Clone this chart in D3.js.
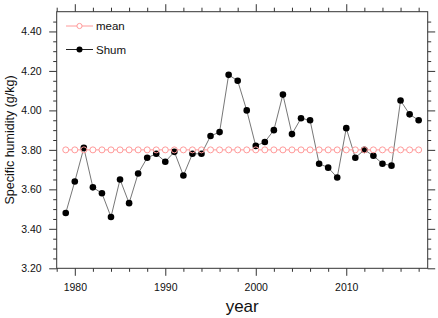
<!DOCTYPE html>
<html><head><meta charset="utf-8">
<script src="https://cdn.jsdelivr.net/npm/d3@7"></script>
<style>body{margin:0;background:#fff}svg{display:block}text{font-family:"Liberation Sans",Arial,sans-serif}</style>
</head><body>
<svg id="c" width="438" height="318"></svg>
<script>
const years = [1979,1980,1981,1982,1983,1984,1985,1986,1987,1988,1989,1990,1991,1992,1993,1994,1995,1996,1997,1998,1999,2000,2001,2002,2003,2004,2005,2006,2007,2008,2009,2010,2011,2012,2013,2014,2015,2016,2017,2018];
const shum = [3.48,3.64,3.81,3.61,3.58,3.46,3.65,3.53,3.68,3.76,3.78,3.74,3.79,3.67,3.78,3.78,3.87,3.89,4.18,4.15,4.00,3.82,3.84,3.90,4.08,3.88,3.96,3.95,3.73,3.71,3.66,3.91,3.76,3.80,3.77,3.73,3.72,4.05,3.98,3.95];
const meanVals = [3.80,3.80,3.80,3.80,3.80,3.80,3.80,3.80,3.80,3.80,3.80,3.80,3.80,3.80,3.80,3.80,3.80,3.80,3.80,3.80,3.80,3.80,3.80,3.80,3.80,3.80,3.80,3.80,3.80,3.80,3.80,3.80,3.80,3.80,3.80,3.80,3.80,3.80,3.80,3.80];
const yMajor = [3.2,3.4,3.6,3.8,4.0,4.2,4.4];
const yMinor = [3.25,3.3,3.35,3.45,3.5,3.55,3.65,3.7,3.75,3.85,3.9,3.95,4.05,4.1,4.15,4.25,4.3,4.35,4.45];
const xMajor = [1980,1990,2000,2010];
const xMinor = [1978,1982,1984,1986,1988,1992,1994,1996,1998,2002,2004,2006,2008,2012,2014,2016,2018];
const legendLabels = ["mean","Shum"];

const L=56.7,R=427.7,T=11.7,B=268.3;
const svg=d3.select("#c");
const x=d3.scaleLinear().domain([1978,2019]).range([L,R]);
const y=d3.scaleLinear().domain([3.2,4.5]).range([B,T]);
const axCol="#333";

function styleAxis(g){g.select(".domain").remove();g.selectAll("line").attr("stroke",axCol).attr("stroke-width",1);}
svg.append("g").attr("transform",`translate(${L},0)`).call(d3.axisLeft(y).tickValues(yMinor).tickSize(3.5).tickFormat("")).call(styleAxis);
const yl=svg.append("g").attr("transform",`translate(${L},0)`).call(d3.axisLeft(y).tickValues(yMajor).tickSize(7.5).tickPadding(7.5).tickFormat(d3.format(".2f"))).call(styleAxis);
yl.selectAll("text").attr("font-size",10.5).attr("fill","#111").attr("font-family","'Liberation Sans',Arial,sans-serif");
svg.append("g").attr("transform",`translate(${R},0)`).call(d3.axisRight(y).tickValues(yMinor).tickSize(3.5).tickFormat("")).call(styleAxis);
svg.append("g").attr("transform",`translate(${R},0)`).call(d3.axisRight(y).tickValues(yMajor).tickSize(7.5).tickFormat("")).call(styleAxis);

svg.append("g").attr("transform",`translate(0,${B})`).call(d3.axisBottom(x).tickValues(xMinor).tickSize(3.5).tickFormat("")).call(styleAxis);
const xl=svg.append("g").attr("transform",`translate(0,${B})`).call(d3.axisBottom(x).tickValues(xMajor).tickSize(7.5).tickPadding(7.7).tickFormat(d3.format("d"))).call(styleAxis);
xl.selectAll("text").attr("font-size",10.5).attr("fill","#111").attr("font-family","'Liberation Sans',Arial,sans-serif");
svg.append("g").attr("transform",`translate(0,${T})`).call(d3.axisTop(x).tickValues(xMinor).tickSize(4).tickFormat("")).call(styleAxis);
svg.append("g").attr("transform",`translate(0,${T})`).call(d3.axisTop(x).tickValues(xMajor).tickSize(7.5).tickFormat("")).call(styleAxis);

svg.append("rect").attr("x",L).attr("y",T).attr("width",R-L).attr("height",B-T).attr("fill","none").attr("stroke",axCol).attr("stroke-width",1);

const pink="#ff9a9a";
const line=d3.line().x((d,i)=>x(years[i])).y(d=>y(d));
svg.append("path").datum(meanVals).attr("d",line).attr("fill","none").attr("stroke",pink).attr("stroke-width",1);
svg.append("g").selectAll("circle").data(meanVals).join("circle").attr("cx",(d,i)=>x(years[i])).attr("cy",d=>y(d)).attr("r",3).attr("fill","#fff");
svg.append("path").datum(shum).attr("d",line).attr("fill","none").attr("stroke","#777").attr("stroke-width",1);
svg.append("g").selectAll("circle").data(shum).join("circle").attr("cx",(d,i)=>x(years[i])).attr("cy",d=>y(d)).attr("r",3.3).attr("fill","#000");
svg.append("g").selectAll("circle").data(meanVals).join("circle").attr("cx",(d,i)=>x(years[i])).attr("cy",d=>y(d)).attr("r",3).attr("fill","none").attr("stroke",pink).attr("stroke-width",1);

const lg=svg.append("g");
lg.append("line").attr("x1",66).attr("x2",93).attr("y1",26).attr("y2",26).attr("stroke",pink);
lg.append("circle").attr("cx",79.5).attr("cy",26).attr("r",2.6).attr("fill","#fff").attr("stroke",pink);
lg.append("text").attr("x",96).attr("y",30).attr("font-size",11.5).attr("fill","#111").text(legendLabels[0]);
lg.append("line").attr("x1",66).attr("x2",93).attr("y1",49.5).attr("y2",49.5).attr("stroke","#222");
lg.append("circle").attr("cx",79.5).attr("cy",49.5).attr("r",3).attr("fill","#000");
lg.append("text").attr("x",96).attr("y",53.5).attr("font-size",11.5).attr("fill","#111").text(legendLabels[1]);

svg.append("text").attr("x",(L+R)/2).attr("y",312).attr("text-anchor","middle").attr("font-size",17).attr("fill","#111").text("year");
svg.append("text").attr("transform",`translate(13.5,${(T+B)/2}) rotate(-90)`).attr("text-anchor","middle").attr("font-size",12.5).attr("fill","#111").text("Specific humidity (g/kg)");
</script>
</body></html>
